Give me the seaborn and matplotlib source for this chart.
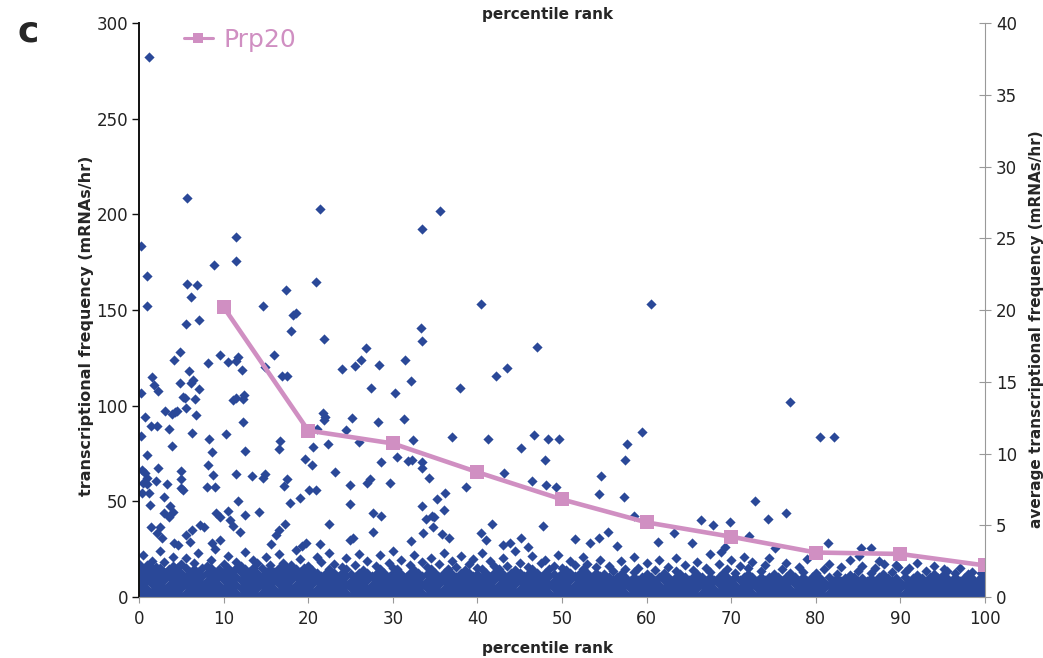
import pandas as pd
import seaborn as sns
import matplotlib.pyplot as plt

# Prp20 average transcriptional frequency per decile (right axis)
prp20_rank = [10, 20, 30, 40, 50, 60, 70, 80, 90, 100]
prp20_avg = [20.2, 11.6, 10.7, 8.7, 6.8, 5.2, 4.2, 3.1, 3.0, 2.2]

# individual genes standing out above the dense band (left axis)
gene_rank = [
    1.2, 5.7, 21.4, 35.6, 33.4, 0.2, 11.5, 8.9, 11.5, 0.9, 20.9, 5.7, 6.8, 17.4, 6.2, 0.9,
    14.6, 40.4, 60.5, 18.6, 18.2, 7.1, 5.6, 33.3, 18.0, 21.9, 33.5, 47.1, 26.8, 4.8, 9.6, 15.9,
    11.7, 4.1, 26.2, 31.4, 11.5, 10.5, 8.1, 28.4, 25.5, 14.9, 43.5, 24.0, 12.2, 5.9, 16.9, 17.5,
    42.2, 1.5, 6.4, 32.2, 6.2, 4.9, 1.8, 27.4, 37.9, 7.1, 2.3, 0.2, 30.3, 12.4, 5.2, 11.5,
    5.4, 12.3, 6.6, 11.1, 76.9, 5.6, 4.5, 3.1, 4.2, 21.7, 3.9, 6.7, 0.7, 22.0, 25.2, 31.3,
    21.9, 12.3, 28.3, 1.4, 2.1, 3.5, 21.0, 24.5, 59.5, 6.3, 10.3, 46.7, 0.2, 37.0, 80.5, 82.1,
    8.3, 41.2, 48.4, 49.7, 32.4, 16.7, 26.0, 57.7, 22.3, 3.9, 20.6, 45.1, 16.5, 12.5, 8.6, 0.9,
    30.5, 19.6, 48.0, 57.4, 32.3, 31.8, 28.6, 33.5, 20.4, 8.1, 2.2, 33.4, 0.4, 5.0, 23.2, 0.7,
    43.1, 11.5, 14.9, 8.7, 54.6, 13.4, 14.6, 34.3, 0.9, 5.0, 17.5, 27.3, 2.0, 46.4, 26.9, 29.7,
    0.5, 3.3, 0.9, 24.9, 48.1, 17.1, 8.0, 5.0, 9.0, 38.7, 49.3, 5.2, 20.1, 20.9, 36.2, 1.2,
    0.4, 54.4, 57.3, 2.9, 19.0, 35.2, 11.7, 72.8, 17.9, 24.9, 1.3, 3.7, 33.5, 36.0, 10.5, 4.0,
    14.2, 9.1, 27.7, 2.9, 76.5, 12.5, 58.5, 28.6, 34.6, 3.5, 9.6, 34.9, 33.9, 74.4, 10.8, 66.4,
    69.8, 22.5, 17.3, 41.7, 7.2, 67.8, 11.1, 47.8, 1.4, 2.5, 7.7, 34.8, 6.3, 16.5, 55.4, 11.9,
    27.7, 2.1, 40.4, 33.6, 63.2, 35.8, 5.6, 16.2, 72.1, 2.7, 54.4, 25.3, 36.6, 45.2, 51.5, 9.6,
    24.9, 41.0, 32.2, 6.0, 61.3, 19.7, 65.4, 4.1, 8.6, 43.9, 53.3, 81.4, 15.6, 21.4, 4.6, 43.0,
    19.3, 56.5, 46.0, 69.3, 85.4, 75.2, 86.5, 68.8, 85.1, 71.5, 88.1, 89.7, 95.1,
]
gene_freq = [
    282, 208.5, 202.8, 201.8, 192.5, 183.6, 188.2, 173.7, 175.5, 167.8, 164.5, 163.8, 162.9, 160.3, 156.7, 152,
    152.3, 153, 153, 148.6, 147.4, 144.6, 142.9, 140.8, 138.9, 134.9, 133.6, 130.9, 130.3, 128, 126.5, 126.3,
    125.6, 123.9, 123.9, 123.9, 123.5, 122.8, 122.2, 121.4, 120.8, 120.4, 119.5, 119.2, 118.7, 118.3, 115.7, 115.5,
    115.7, 114.8, 113.2, 112.9, 111.9, 111.7, 110.7, 109.4, 109.4, 108.6, 107.8, 106.8, 106.8, 105.6, 104.7, 104.2,
    103.9, 103.7, 103.3, 103.0, 102.1, 98.6, 97.2, 97.1, 96.5, 96.0, 95.7, 95.0, 94.3, 94.3, 93.6, 92.9,
    92.5, 91.5, 91.5, 89.4, 89.4, 87.7, 87.7, 87.3, 86.4, 85.9, 85.0, 84.7, 84.2, 83.8, 83.6, 83.5,
    82.4, 82.4, 82.4, 82.6, 82.1, 81.7, 81.2, 80.1, 79.8, 78.9, 78.6, 77.7, 77.4, 76.3, 75.6, 74.2,
    73.3, 72.0, 71.6, 71.6, 71.5, 71.1, 70.7, 70.7, 69.0, 69.0, 67.3, 67.3, 66.4, 66.0, 65.2, 64.7,
    64.7, 64.1, 64.1, 63.8, 63.4, 63.2, 62.4, 62.4, 62.0, 61.5, 61.5, 61.5, 60.8, 60.8, 59.8, 59.8,
    59.4, 59.1, 59.0, 58.5, 58.5, 58.0, 57.7, 57.1, 57.3, 57.3, 57.3, 55.9, 55.9, 55.9, 54.6, 54.5,
    54.2, 53.8, 52.4, 52.1, 51.6, 51.1, 50.3, 50.2, 49.3, 48.6, 48.3, 47.7, 47.7, 45.5, 45.1, 44.6,
    44.3, 44.1, 44.1, 43.8, 43.8, 42.9, 42.3, 42.3, 42.3, 42.0, 42.0, 41.7, 40.6, 40.6, 40.3, 40.3,
    39.4, 38.2, 38.2, 38.2, 37.6, 37.5, 37.3, 36.9, 36.7, 36.7, 36.7, 36.7, 35.0, 35.0, 34.1, 34.1,
    34.1, 33.6, 33.6, 33.6, 33.6, 32.8, 32.4, 32.3, 31.9, 30.7, 30.7, 30.8, 30.7, 30.7, 30.3, 29.8,
    29.8, 29.8, 29.4, 28.9, 28.6, 28.4, 28.4, 28.1, 28.1, 28.1, 28.1, 28.1, 27.5, 27.5, 27.2, 27.2,
    26.7, 26.7, 26.3, 26.3, 25.8, 25.4, 25.4, 23.7, 21.4, 20.7, 17.2, 15.8, 14.5,
]

# the dense band of genes near zero, one entry per rank column: "rank: freq freq ..."
band = [
    "0: 0.4 4.6 8.7 12.9 17.5", "0.5: 2.4 6.5 10.8 14.6 22", "1: 0.6 4.3 8.9 13.2 16.8",
    "1.5: 2.6 6.8 11.1 15.3 19", "2: 0.5 4.8 8.5 12.6 15.8", "2.5: 2.2 6.4 10.6 14.9 24",
    "3: 0.4 4.6 8.7 12.9 18.3", "3.5: 2.4 6.5 10.8 14.6", "4: 0.6 4.3 8.9 13.2 16.4 21",
    "4.5: 2.6 6.8 11.1 15.3", "5: 0.5 4.8 8.5 12.6 17", "5.5: 2.2 6.4 10.6 14.9 20.5",
    "6: 0.4 4.6 8.7 12.9", "6.5: 2.4 6.5 10.8 14.6 17.8", "7: 0.6 4.3 8.9 13.2 23",
    "7.5: 2.6 6.8 11.1 15.3", "8: 0.5 4.8 8.5 12.6 16.2", "8.5: 2.2 6.4 10.6 14.9 19.6",
    "9: 0.4 4.6 8.7 12.9 25", "9.5: 2.4 6.5 10.8 14.6", "10: 0.6 4.3 8.9 13.2 17.1",
    "10.5: 2.6 6.8 11.1 15.3 21.5", "11: 0.5 4.8 8.5 12.6", "11.5: 2.2 6.4 10.6 14.9 18.4",
    "12: 0.4 4.6 8.7 12.9 16", "12.5: 2.4 6.5 10.8 14.6 23.5", "13: 0.6 4.3 8.9 13.2",
    "13.5: 2.6 6.8 11.1 15.3 19.2", "14: 0.5 4.8 8.5 12.6 17.6", "14.5: 2.2 6.4 10.6 14.9",
    "15: 0.4 4.6 8.7 12.9 20.8", "15.5: 2.4 6.5 10.8 14.6 16.9", "16: 0.6 4.3 8.9 13.2",
    "16.5: 2.6 6.8 11.1 15.3 22.4", "17: 0.5 4.8 8.5 12.6 18", "17.5: 2.2 6.4 10.6 14.9",
    "18: 0.4 4.6 8.7 12.9 16.5", "18.5: 2.4 6.5 10.8 14.6 24.5", "19: 0.6 4.3 8.9 13.2 19.8",
    "19.5: 2.6 6.8 11.1 15.3", "20: 0.5 4.6 8.7 12.4 16.3", "20.5: 2.5 6.6 10.5 14.2",
    "21: 0.4 4.4 8.9 12.7 21", "21.5: 2.3 6.4 10.8 18.5", "22: 0.6 4.7 8.5 12.2",
    "22.5: 2.6 6.7 10.3 14.6 23", "23: 0.5 4.6 8.7 12.4 17.2", "23.5: 2.5 6.6 10.5",
    "24: 0.4 4.4 8.9 12.7 15.6", "24.5: 2.3 6.4 10.8 14.4 20.2", "25: 0.6 4.7 8.5 12.2",
    "25.5: 2.6 6.7 10.3 16.8", "26: 0.5 4.6 8.7 12.4 22.6", "26.5: 2.5 6.6 10.5 14.2",
    "27: 0.4 4.4 8.9 12.7 18.9", "27.5: 2.3 6.4 10.8", "28: 0.6 4.7 8.5 12.2 16",
    "28.5: 2.6 6.7 10.3 14.6 21.8", "29: 0.5 4.6 8.7 12.4", "29.5: 2.5 6.6 10.5 17.7",
    "30: 0.4 4.4 8.9 12.7 15.2 24", "30.5: 2.3 6.4 10.8 14.4", "31: 0.6 4.7 8.5 12.2 19.4",
    "31.5: 2.6 6.7 10.3", "32: 0.5 4.6 8.7 12.4 16.6", "32.5: 2.5 6.6 10.5 14.2 22",
    "33: 0.4 4.4 8.9 12.7", "33.5: 2.3 6.4 10.8 18.2", "34: 0.6 4.7 8.5 12.2 15.9",
    "34.5: 2.6 6.7 10.3 14.6 20.6", "35: 0.5 4.6 8.7 12.4", "35.5: 2.5 6.6 10.5 17",
    "36: 0.4 4.4 8.9 12.7 23.2", "36.5: 2.3 6.4 10.8 14.4", "37: 0.6 4.7 8.5 12.2 19",
    "37.5: 2.6 6.7 10.3 15.7", "38: 0.5 4.6 8.7 12.4 21.4", "38.5: 2.5 6.6 10.5 14.2",
    "39: 0.4 4.4 8.9 12.7 17.4", "39.5: 2.3 6.4 10.8 20", "40: 0.6 4.7 8.5 12.2 15.4",
    "40.5: 2.6 6.7 10.3 14.6 22.8", "41: 0.5 4.6 8.7 12.4", "41.5: 2.5 6.6 10.5 18.6",
    "42: 0.4 4.4 8.9 12.7 16.1", "42.5: 2.3 6.4 10.8 14.4", "43: 0.6 4.7 8.5 12.2 20.4",
    "43.5: 2.6 6.7 10.3 16.4", "44: 0.5 4.6 8.7 12.4", "44.5: 2.5 6.6 10.5 14.2 23.8",
    "45: 0.4 4.4 8.9 12.7 18", "45.5: 2.3 6.4 10.8", "46: 0.6 4.7 8.5 12.2 15.6",
    "46.5: 2.6 6.7 10.3 14.6 21.2", "47: 0.5 4.6 8.7 12.4", "47.5: 2.5 6.6 10.5 17.9",
    "48: 0.4 4.4 8.9 12.7 19.6", "48.5: 2.3 6.4 10.8 14.4", "49: 0.6 4.7 8.5 12.2 16.2",
    "49.5: 2.6 6.7 10.3 22.1", "50: 0.5 4.6 8.7 12.4 15", "50.5: 2.5 6.6 10.5 14.2",
    "51: 0.4 4.4 8.9 12.7 18.8", "51.5: 2.3 6.4 10.8 16.6", "52: 0.6 4.7 8.5 12.2",
    "52.5: 2.6 6.7 10.3 14.6 20.9", "53: 0.5 4.6 8.7 12.4 17", "53.5: 2.5 6.6 10.5",
    "54: 0.4 4.4 8.9 12.7 15.8", "54.5: 2.3 6.4 10.8 19.4", "55: 0.5 4.5 8.6 12.1",
    "55.5: 2.4 6.5 10.4 16.3", "56: 0.6 4.3 8.8 13.4", "56.5: 2.6 6.7 10.6",
    "57: 0.4 4.6 8.4 12 18.7", "57.5: 2.3 6.4 10.2 14.8", "58: 0.5 4.5 8.6",
    "58.5: 2.4 6.5 10.4 13.1 21", "59: 0.6 4.3 8.8 15.2", "59.5: 2.6 6.7 10.6",
    "60: 0.4 4.6 8.4 12 17.6", "60.5: 2.3 6.4 10.2", "61: 0.5 4.5 8.6 13.9",
    "61.5: 2.4 6.5 10.4 19.3", "62: 0.6 4.3 8.8 12.4", "62.5: 2.6 6.7 10.6 15.8",
    "63: 0.4 4.6 8.4", "63.5: 2.3 6.4 10.2 13.6 20.2", "64: 0.5 4.5 8.6 12.1",
    "64.5: 2.4 6.5 10.4 16.9", "65: 0.6 4.3 8.8", "65.5: 2.6 6.7 10.6 14.2",
    "66: 0.4 4.6 8.4 12 18.1", "66.5: 2.3 6.4 10.2", "67: 0.5 4.5 8.6 15.4",
    "67.5: 2.4 6.5 10.4 13 22.3", "68: 0.6 4.3 8.8", "68.5: 2.6 6.7 10.6 17.2",
    "69: 0.4 4.6 8.4 12.3", "69.5: 2.3 6.4 10.2 14.6", "70: 0.5 4.5 8.6 19.1",
    "70.5: 2.4 6.5 10.4 12.8", "71: 0.6 4.3 8.8 16", "71.5: 2.6 6.7 10.6",
    "72: 0.4 4.6 8.4 12 14.9", "72.5: 2.3 6.4 10.2 18.5", "73: 0.5 4.5 8.6",
    "73.5: 2.4 6.5 10.4 13.4", "74: 0.6 4.3 8.8 16.7", "74.5: 2.6 6.7 10.6 20.6",
    "75: 0.4 4.6 8.4 12.2", "75.5: 2.3 6.4 10.2", "76: 0.5 4.5 8.6 14.8",
    "76.5: 2.4 6.5 10.4 17.8", "77: 0.6 4.3 8.8 12.5", "77.5: 2.6 6.7 10.6",
    "78: 0.4 4.6 8.4 15.5", "78.5: 2.3 6.4 10.2 13.2", "79: 0.5 4.5 8.6 19.7",
    "79.5: 2.4 6.5 10.4", "80: 0.5 4.4 8.3 12.6", "80.5: 2.4 6.3 9.9",
    "81: 0.6 4.6 8.1 14.6", "81.5: 2.2 6.5 10.2 17.3", "82: 0.4 4.3 8.5",
    "82.5: 2.5 6.2 9.8 12.1", "83: 0.5 4.4 8.3 15.9", "83.5: 2.4 6.3 9.9",
    "84: 0.6 4.6 8.1 11.6 19.2", "84.5: 2.2 6.5 10.2", "85: 0.4 4.3 8.5 13.7",
    "85.5: 2.5 6.2 9.8 16.4", "86: 0.5 4.4 8.3", "86.5: 2.4 6.3 9.9 12.4",
    "87: 0.6 4.6 8.1 14.9", "87.5: 2.2 6.5 10.2 18.6", "88: 0.4 4.3 8.5 11.8",
    "88.5: 2.5 6.2 9.8", "89: 0.5 4.4 8.3 13.2", "89.5: 2.4 6.3 9.9 16.8",
    "90: 0.6 4.6 8.1", "90.5: 2.2 6.5 10.2 12.9", "91: 0.4 4.3 8.5 15.1",
    "91.5: 2.5 6.2 9.8", "92: 0.5 4.4 8.3 11.5 17.7", "92.5: 2.4 6.3 9.9",
    "93: 0.6 4.6 8.1 13.6", "93.5: 2.2 6.5 10.2", "94: 0.4 4.3 8.5 12.2 16",
    "94.5: 2.5 6.2 9.8", "95: 0.5 4.4 8.3 11.4", "95.5: 2.4 6.3 9.9 13.8",
    "96: 0.6 4.6 8.1", "96.5: 2.2 6.5 10.2 12.6", "97: 0.4 4.3 8.5 15.4",
    "97.5: 2.5 6.2 9.8", "98: 0.5 4.4 8.3 11.9", "98.5: 2.4 6.3 9.9 13.1",
    "99: 0.6 4.6 8.1", "99.5: 2.2 6.5 10.2 12.3", "100: 0.4 4.3 8.5 11",
]

blue = "#2a4898"
pink = "#d08fc2"

rank, freq = list(gene_rank), list(gene_freq)
for col in band:
    r, ys = col.split(":")
    for v in ys.split():
        rank.append(float(r))
        freq.append(float(v))
genes = pd.DataFrame({"rank": rank, "freq": freq})

sns.set_style("white")
plt.rcParams["font.family"] = ["DejaVu Sans"]

fig = plt.figure(figsize=(10.43, 6.58), dpi=100)
ax = fig.add_axes([0.1333, 0.0927, 0.8111, 0.8723])

sns.scatterplot(data=genes, x="rank", y="freq", marker="D", s=27, color=blue,
                linewidth=0, ax=ax, legend=False, zorder=2)
ax.set_xlim(0, 100)
ax.set_ylim(0, 300)
ax.set_xticks(range(0, 101, 10))
ax.set_yticks(range(0, 301, 50))
ax.set_xlabel("")
ax.set_ylabel("")

ax2 = ax.twinx()
sns.lineplot(x=prp20_rank, y=prp20_avg, ax=ax2, color=pink, linewidth=3.3,
             marker="s", markersize=10.5, markeredgewidth=0, label="Prp20")
ax2.set_ylim(0, 40)
ax2.set_yticks(range(0, 41, 5))

for a in (ax, ax2):
    a.spines["top"].set_visible(False)
ax.spines["right"].set_visible(False)
ax2.spines["left"].set_visible(False)
ax2.spines["bottom"].set_visible(False)
ax.spines["left"].set_color("#111111")
ax.spines["left"].set_linewidth(1.4)
ax.spines["bottom"].set_color("#999999")
ax.spines["bottom"].set_linewidth(0.8)
ax2.spines["right"].set_color("#999999")
ax2.spines["right"].set_linewidth(0.8)

ax.tick_params(axis="y", direction="out", length=5, width=1, color="#111111",
               labelsize=12, labelcolor="#222222", left=True, pad=3)
ax.tick_params(axis="x", direction="out", length=4, width=0.8, color="#999999",
               labelsize=12, labelcolor="#222222", bottom=True, pad=5)
ax2.tick_params(axis="y", direction="inout", length=8, width=0.8, color="#999999",
                labelsize=12, labelcolor="#222222", right=True, pad=4)

leg = ax2.legend(loc="center left", bbox_to_anchor=(0.053, 0.97), frameon=False,
                 fontsize=18, labelcolor=pink, handlelength=1.15, handletextpad=0.45,
                 borderaxespad=0, borderpad=0)
for h in leg.legend_handles:
    h.set_linewidth(2.2)
    h.set_markersize(7)

fig.text(0.017, 0.952, "c", fontsize=26, fontweight="bold", va="center")
fig.text(0.525, 0.978, "percentile rank", fontsize=11, fontweight="bold", ha="center", va="center")
fig.text(0.525, 0.015, "percentile rank", fontsize=11, fontweight="bold", ha="center", va="center")
fig.text(0.083, 0.505, "transcriptional frequency (mRNAs/hr)", fontsize=11.5,
         fontweight="bold", rotation=90, ha="center", va="center")
fig.text(0.994, 0.5, "average transcriptional frequency (mRNAs/hr)", fontsize=11,
         fontweight="bold", rotation=90, ha="center", va="center")

fig.savefig("out.png", dpi=100)
